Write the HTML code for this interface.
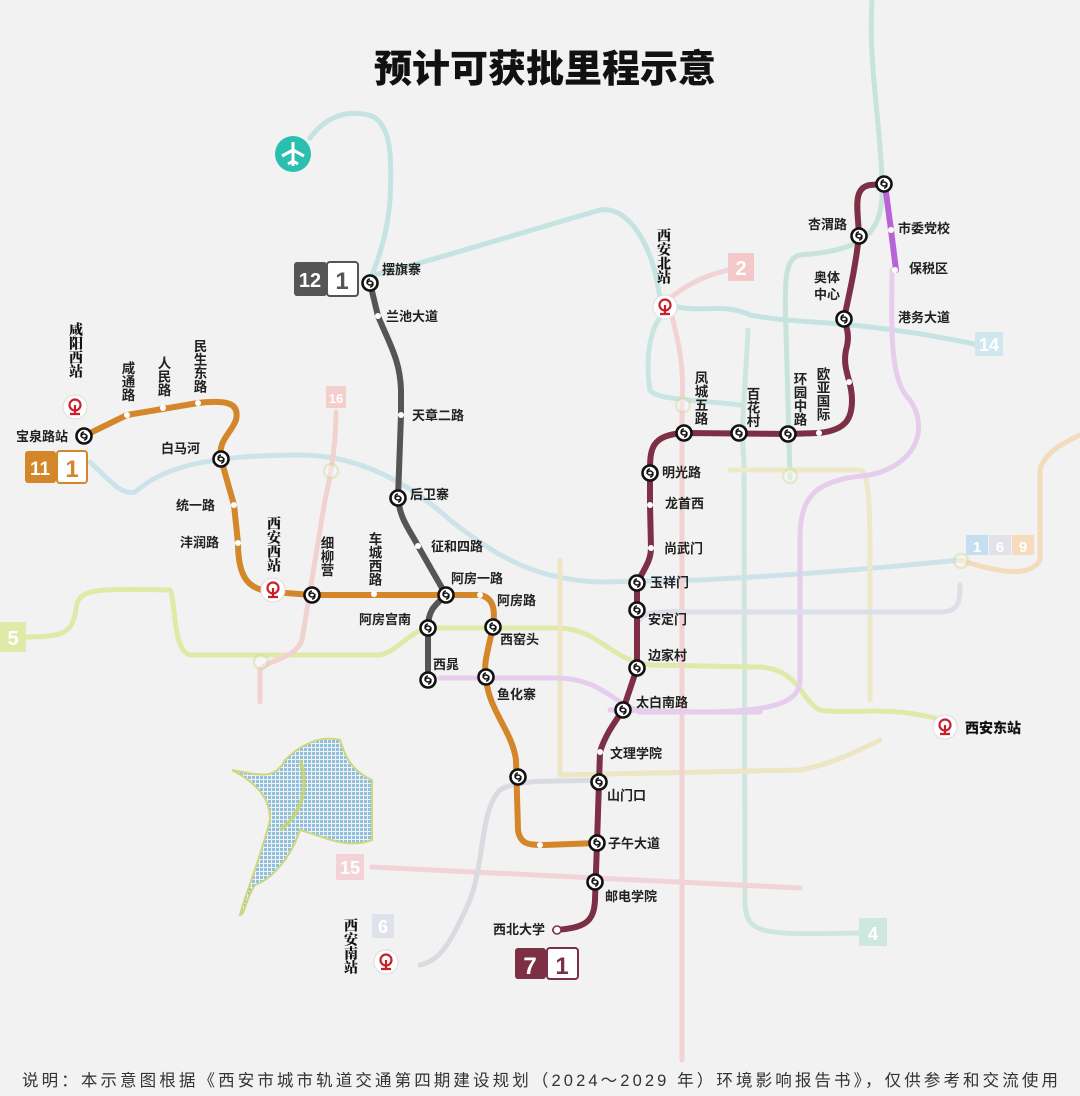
<!DOCTYPE html>
<html><head><meta charset="utf-8"><style>
html,body{margin:0;padding:0;background:#f2f2f2;}
svg{display:block;}
text{font-family:"Liberation Sans","Noto Sans CJK SC",sans-serif;}
.l{font-size:13px;fill:#222;font-weight:bold;}
.v{font-size:13.5px;fill:#222;font-weight:bold;writing-mode:tb;glyph-orientation-vertical:0;}
.rs{font-family:"Noto Serif CJK SC",serif;font-size:14px;fill:#111;font-weight:900;writing-mode:tb;}
</style></head><body>
<svg width="1080" height="1096" viewBox="0 0 1080 1096" xmlns="http://www.w3.org/2000/svg">
<defs>
<g id="st"><circle r="7.5" fill="#fff" stroke="#111" stroke-width="2.6"/><path d="M-3,1 a3,3 0 1,1 3,3 M3,-1 a3,3 0 1,1 -3,-3" fill="none" stroke="#111" stroke-width="1.4"/></g>
<g id="fst" opacity="0.5"><circle r="7" fill="#fff" stroke="#c9d98a" stroke-width="2.5"/></g>
<g id="rw"><circle r="12" fill="#fff" stroke="#ddd" stroke-width="1"/><circle cy="-2" r="5.5" fill="none" stroke="#c8202b" stroke-width="2.2"/><path d="M0,-2 V7 M-5,7 H5" stroke="#c8202b" stroke-width="2.2" fill="none"/></g>
<pattern id="dots" width="4" height="4" patternUnits="userSpaceOnUse"><rect width="4" height="4" fill="#f2f2f2"/><rect width="3" height="3" fill="#7fb8dc"/></pattern>
</defs>
<rect width="1080" height="1096" fill="#f2f2f2"/>
<g fill="none" stroke-width="5" stroke-linecap="round" stroke-linejoin="round">
<path d="M872,0 C868,60 880,120 882,180 C884,230 870,250 800,255 C785,258 784,280 786,330 L790,478" stroke="#c7e4d6"/>
<path d="M748,330 C746,380 740,430 744,460 L745,900 C745,935 760,935 860,933" stroke="#cfe6de"/>
<path d="M310,138 C325,118 345,108 372,116 C392,126 392,160 390,200 C388,230 380,255 372,275 C400,270 470,248 600,210 C630,205 655,250 660,300 C690,318 720,300 750,315 C800,325 850,318 980,345" stroke="#c5e3e1"/>
<path d="M660,318 C650,330 645,360 650,390 C655,400 700,400 740,405" stroke="#c9e5e2"/>
<path d="M90,462 C110,480 120,495 135,492 C160,470 200,455 300,455 C350,455 400,475 450,520 C500,560 540,580 600,582 L700,580 C800,575 900,566 960,560" stroke="#cde3ea"/>
<path d="M960,560 C990,570 1030,580 1040,560 L1040,470 C1045,450 1070,440 1080,435" stroke="#f2dcbc"/>
<path d="M20,637 C60,637 70,635 75,615 C78,590 80,588 170,590 C176,600 172,650 190,655 L380,655 C400,650 410,630 430,628 L560,628 C600,630 610,660 650,665 L760,667 C800,670 800,700 820,710 C850,715 880,705 935,718" stroke="#dfeaa8"/>
<path d="M560,560 C560,600 560,740 560,775 L800,770 C830,765 860,750 880,740" stroke="#ece6c4"/>
<path d="M730,470 L860,470 C870,470 870,520 870,560 L870,700" stroke="#ece8c8"/>
<path d="M336,412 C336,440 332,470 325,500 C318,540 312,580 302,640 C295,660 265,660 260,670 L260,702" stroke="#f1d2ce"/>
<path d="M740,268 C710,272 685,285 668,300 C675,330 685,360 682,400 L682,1060" stroke="#f1d3d3"/>
<path d="M372,867 L800,888" stroke="#f1d3d8"/>
<path d="M892,270 C892,320 888,380 910,400 C930,430 915,465 870,475 C815,480 800,495 800,540 L800,680 C800,700 780,712 700,712 L610,710" stroke="#e6cdec"/>
<path d="M440,678 L560,678 C600,680 610,700 640,712 L760,712" stroke="#e6cdec"/>
<path d="M690,612 L940,612 C960,612 960,600 960,585 M690,612 C650,610 640,615 640,620" stroke="#dcdfe8"/>
<path d="M420,965 C440,960 450,945 470,900 C485,860 480,810 500,790 C520,778 560,782 600,780" stroke="#d8dbe0"/>
</g>
<path d="M885,185 L891,230 L896,270" stroke="#b864d8" stroke-width="6" fill="none" stroke-linecap="round"/>
<g font-weight="bold" font-size="18" text-anchor="middle" fill="#fff">
<rect x="326" y="386" width="20" height="22" fill="#f4cfcb"/><text x="336" y="403" font-size="13">16</text>
<rect x="728" y="253" width="26" height="28" fill="#f3c8c8"/><text x="741" y="275" font-size="20">2</text>
<rect x="975" y="332" width="28" height="24" fill="#cfe8ef"/><text x="989" y="351">14</text>
<rect x="0" y="622" width="26" height="30" fill="#dfeaa8"/><text x="13" y="645" font-size="20">5</text>
<rect x="966" y="535" width="22" height="20" fill="#c6dff0"/><text x="977" y="552" font-size="15">1</text>
<rect x="989" y="535" width="22" height="20" fill="#e2e2ea"/><text x="1000" y="552" font-size="15">6</text>
<rect x="1012" y="535" width="22" height="20" fill="#f6dcbc"/><text x="1023" y="552" font-size="15">9</text>
<rect x="336" y="854" width="28" height="26" fill="#f3d3d8"/><text x="350" y="874">15</text>
<rect x="372" y="914" width="22" height="24" fill="#dfe2ea"/><text x="383" y="933">6</text>
<rect x="859" y="918" width="28" height="28" fill="#cfe8de"/><text x="873" y="940">4</text>
</g>
<g opacity="0.7"><use href="#fst" x="331" y="471"/><use href="#fst" x="261" y="662"/><use href="#fst" x="683" y="405"/><use href="#fst" x="790" y="476"/><use href="#fst" x="961" y="561"/></g>
<!-- lake -->
<path d="M232,770 C260,775 275,780 285,760 C300,745 320,735 340,740 C345,755 350,770 372,780 L372,840 C345,850 320,835 300,830 C290,860 270,880 255,885 C245,900 245,915 240,915 C245,895 260,860 270,820 C270,800 260,785 232,770 Z" fill="url(#dots)" stroke="#c7d36a" stroke-width="2" opacity="0.85"/>
<path d="M300,760 C310,790 300,815 280,830" stroke="#c7d36a" stroke-width="4" fill="none" opacity="0.8"/>
<!-- airport -->
<circle cx="293" cy="154" r="18" fill="#2bbfb0"/>
<path d="M293,142 V166 M282,156 L293,150 L304,156 M288,164 L293,161 L298,164" stroke="#fff" stroke-width="3" fill="none" stroke-linejoin="round"/>
<g fill="none" stroke-width="6" stroke-linecap="round" stroke-linejoin="round">
<path d="M84,436 L127,415 L198,403 C225,400 240,402 236,420 C230,435 218,440 221,459 L234,505 L238,543 C238,580 250,590 273,592 L312,595 L446,595 L480,595 C495,598 495,612 493,627 C488,650 483,665 486,677 C488,710 512,730 516,760 L518,830 C520,845 530,845 545,845 L597,843" stroke="#d4862a"/>
<path d="M370,283 L378,316 C390,345 400,360 401,390 L401,415 L398,498 C400,520 410,530 418,546 L446,595 C435,605 428,610 428,628 L428,680" stroke="#555"/>
<path d="M555,930 C585,928 594,922 595,900 L597,843 L599,782 L600,752 C605,735 615,722 623,710 L637,668 L637,610 L637,583 C645,568 651,560 651,548 L650,505 L650,473 C650,450 650,435 684,433 L788,434 L819,433 C845,430 852,420 852,400 C852,380 842,370 846,350 C852,330 842,320 844,319 C850,290 855,270 859,236 C858,210 852,188 870,185 L884,184" stroke="#7c2f45"/>
</g>
<g fill="#fff"><circle cx="127" cy="415" r="3"/><circle cx="163" cy="408" r="3"/><circle cx="198" cy="403" r="3"/><circle cx="234" cy="505" r="3"/><circle cx="238" cy="543" r="3"/><circle cx="374" cy="594" r="3"/><circle cx="480" cy="595" r="3"/><circle cx="540" cy="845" r="3"/>
<circle cx="378" cy="316" r="3"/><circle cx="401" cy="415" r="3"/><circle cx="418" cy="546" r="3"/>
<circle cx="600" cy="752" r="3"/><circle cx="651" cy="548" r="3"/><circle cx="650" cy="505" r="3"/><circle cx="819" cy="433" r="3"/><circle cx="849" cy="382" r="3"/><circle cx="891" cy="230" r="3"/><circle cx="895" cy="270" r="3"/>
</g>
<circle cx="557" cy="930" r="4" fill="#fff" stroke="#7c2f45" stroke-width="1.5"/>
<use href="#st" x="84" y="436"/><use href="#st" x="221" y="459"/><use href="#st" x="312" y="595"/><use href="#st" x="446" y="595"/><use href="#st" x="493" y="627"/><use href="#st" x="486" y="677"/><use href="#st" x="518" y="777"/><use href="#st" x="597" y="843"/>
<use href="#st" x="370" y="283"/><use href="#st" x="398" y="498"/><use href="#st" x="428" y="628"/><use href="#st" x="428" y="680"/>
<use href="#st" x="595" y="882"/><use href="#st" x="599" y="782"/><use href="#st" x="623" y="710"/><use href="#st" x="637" y="668"/><use href="#st" x="637" y="610"/><use href="#st" x="637" y="583"/><use href="#st" x="650" y="473"/><use href="#st" x="684" y="433"/><use href="#st" x="739" y="433"/><use href="#st" x="788" y="434"/><use href="#st" x="844" y="319"/><use href="#st" x="859" y="236"/><use href="#st" x="884" y="184"/>
<use href="#rw" x="75" y="407"/><use href="#rw" x="273" y="590"/><use href="#rw" x="665" y="307"/><use href="#rw" x="945" y="727"/><use href="#rw" x="386" y="962"/>
<text class="rs" x="76" y="322">咸阳西站</text>
<text class="rs" x="274" y="516">西安西站</text>
<text class="rs" x="664" y="228">西安北站</text>
<text class="rs" x="351" y="918">西安南站</text>
<text x="965" y="733" font-family="Noto Serif CJK SC,serif" font-size="14" font-weight="900" fill="#111">西安东站</text>
<g font-weight="bold" text-anchor="middle">
<rect x="294" y="262" width="33" height="34" rx="3" fill="#555"/><text x="310" y="287" fill="#fff" font-size="20">12</text>
<rect x="327" y="262" width="31" height="34" rx="3" fill="#fff" stroke="#555" stroke-width="2"/><text x="342" y="289" fill="#555" font-size="24">1</text>
<rect x="25" y="451" width="31" height="32" rx="3" fill="#d4862a"/><text x="40" y="475" fill="#fff" font-size="19">11</text>
<rect x="57" y="451" width="30" height="32" rx="3" fill="#fff" stroke="#d4862a" stroke-width="2"/><text x="72" y="477" fill="#d4862a" font-size="24">1</text>
<rect x="515" y="948" width="31" height="31" rx="3" fill="#7c2f45"/><text x="530" y="974" fill="#fff" font-size="24">7</text>
<rect x="547" y="948" width="31" height="31" rx="3" fill="#fff" stroke="#7c2f45" stroke-width="2"/><text x="562" y="974" fill="#7c2f45" font-size="24">1</text>
</g>
<g class="l">
<text class="l" x="16" y="441">宝泉路站</text>
<text class="l" x="161" y="453">白马河</text>
<text class="l" x="176" y="510">统一路</text>
<text class="l" x="180" y="547">沣润路</text>
<text class="l" x="382" y="274">摆旗寨</text>
<text class="l" x="386" y="321">兰池大道</text>
<text class="l" x="412" y="420">天章二路</text>
<text class="l" x="410" y="499">后卫寨</text>
<text class="l" x="431" y="551">征和四路</text>
<text class="l" x="451" y="583">阿房一路</text>
<text class="l" x="497" y="605">阿房路</text>
<text class="l" x="359" y="624">阿房宫南</text>
<text class="l" x="500" y="644">西窑头</text>
<text class="l" x="433" y="669">西晁</text>
<text class="l" x="497" y="699">鱼化寨</text>
<text class="l" x="662" y="477">明光路</text>
<text class="l" x="665" y="508">龙首西</text>
<text class="l" x="664" y="553">尚武门</text>
<text class="l" x="650" y="587">玉祥门</text>
<text class="l" x="648" y="624">安定门</text>
<text class="l" x="648" y="660">边家村</text>
<text class="l" x="636" y="707">太白南路</text>
<text class="l" x="610" y="758">文理学院</text>
<text class="l" x="607" y="800">山门口</text>
<text class="l" x="608" y="848">子午大道</text>
<text class="l" x="605" y="901">邮电学院</text>
<text class="l" x="493" y="934">西北大学</text>
<text class="l" x="808" y="229">杏渭路</text>
<text class="l" x="814" y="282">奥体</text>
<text class="l" x="814" y="299">中心</text>
<text class="l" x="898" y="233">市委党校</text>
<text class="l" x="909" y="273">保税区</text>
<text class="l" x="898" y="322">港务大道</text>
</g>
<g>
<text class="v" x="127" y="361">咸通路</text>
<text class="v" x="163" y="356">人民路</text>
<text class="v" x="199" y="339">民生东路</text>
<text class="v" x="326" y="536">细柳营</text>
<text class="v" x="374" y="532">车城西路</text>
<text class="v" x="700" y="371">凤城五路</text>
<text class="v" x="752" y="387">百花村</text>
<text class="v" x="799" y="372">环园中路</text>
<text class="v" x="822" y="367">欧亚国际</text>
</g>
<text x="545" y="82" text-anchor="middle" font-family="Noto Serif CJK SC,serif" font-size="38" font-weight="900" fill="#111">预计可获批里程示意</text>
<text x="22" y="1086" font-family="Noto Serif CJK SC,serif" font-size="16.5" fill="#333" textLength="1036">说明：本示意图根据《西安市城市轨道交通第四期建设规划（2024～2029 年）环境影响报告书》，仅供参考和交流使用</text>
</svg>
</body></html>
